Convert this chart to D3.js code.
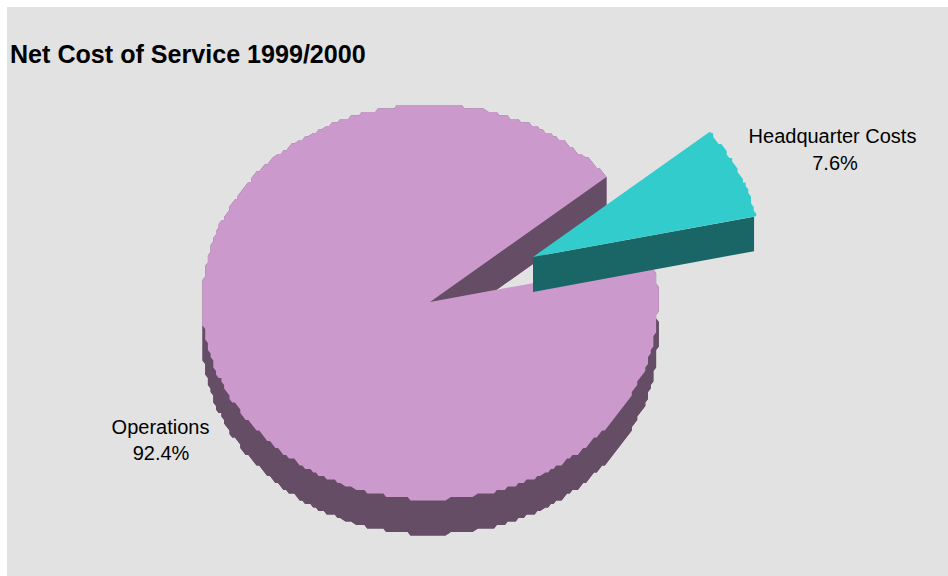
<!DOCTYPE html>
<html>
<head>
<meta charset="utf-8">
<style>
  html, body { margin: 0; padding: 0; background: #ffffff; }
  svg { display: block; }
  text { font-family: "Liberation Sans", Arial, sans-serif; fill: #000; }
</style>
<script src="https://cdn.jsdelivr.net/npm/d3@7/dist/d3.min.js"></script>
</head>
<body>
<svg id="chart" width="948" height="576"></svg>
<script>
const categories = ["Headquarter Costs", "Operations"];
const shares = [7.6, 92.4];
const shareLabels = ["7.6%", "92.4%"];
const chartTitle = "Net Cost of Service 1999/2000";

const width = 948, height = 576;
const center = { x: 430, y: 302 };
const radiusX = 228, radiusY = 197.5;
const depth = 35;
const explode = { dx: 103, dy: -45 };
const firstAngle = 50.7 * Math.PI / 180;
const gridX = 2.7, gridY = 3.5;  // outline snap, gives the coarse stepped rim
const wallInset = 2;

const fills = [
  { top: "#33cccc", side: "#1a6666" },
  { top: "#cc99cc", side: "#664d66" }
];

const svg = d3.select("#chart");

svg.append("rect")
  .attr("x", 7).attr("y", 7)
  .attr("width", width - 7).attr("height", height - 7)
  .attr("fill", "#e2e2e2");

const xScale = d3.scaleLinear().domain([-1, 1]).range([center.x - radiusX, center.x + radiusX]);
const yScale = d3.scaleLinear().domain([-1, 1]).range([center.y + radiusY, center.y - radiusY]);

const slices = d3.pie()
  .sort(null)
  .startAngle(firstAngle)
  .endAngle(firstAngle + 2 * Math.PI)(shares);

// Rim points of a slice, clockwise from its start angle
function rim(slice) {
  const step = 1.0 * Math.PI / 180;
  const n = Math.ceil((slice.endAngle - slice.startAngle) / step);
  return d3.range(n + 1).map(i => {
    const a = slice.startAngle + (slice.endAngle - slice.startAngle) * i / n;
    return [xScale(Math.sin(a)), yScale(Math.cos(a))];
  });
}

const jagged = pts => pts.map((p, i) =>
  i === 0 || i === pts.length - 1
    ? p
    : [Math.round(p[0] / gridX) * gridX, Math.round(p[1] / gridY) * gridY]);

const line = d3.line();
const down = pts => pts.map(p => [p[0], p[1] + depth]);
const hub = [xScale(0), yScale(0)];
const hubLow = [hub[0], hub[1] + depth];

// Operations is drawn first, the pulled-out slice sits over it
[1, 0].forEach(index => {
  const slice = slices[index];
  const color = fills[index];
  const outline = jagged(rim(slice));
  const g = svg.append("g");
  if (index === 0) g.attr("transform", `translate(${explode.dx},${explode.dy})`);

  const last = outline[outline.length - 1];
  const walls = index === 0
    ? [[hub, [last[0] - wallInset, last[1] + 0.6],
        [last[0] - wallInset, last[1] + depth], hubLow]]
    : [[hub, last, [last[0], last[1] + depth], hubLow],
       outline.concat(down(outline).reverse()),
       [hubLow].concat(down(outline))];

  g.selectAll("path.side").data(walls).join("path")
    .attr("class", "side")
    .attr("d", d => line(d) + "Z")
    .attr("fill", color.side);

  g.append("path")
    .attr("class", "top")
    .attr("d", line([hub].concat(outline)) + "Z")
    .attr("fill", color.top);
});

svg.append("text")
  .attr("x", 10).attr("y", 63)
  .attr("font-size", 25.1)
  .attr("font-weight", "bold")
  .text(chartTitle);

const namePos = [{ x: 832.5, y: 143 }, { x: 160.5, y: 434 }];
const sharePos = [{ x: 835, y: 170 }, { x: 161, y: 460 }];
categories.forEach((name, i) => {
  const t = svg.append("text")
    .attr("text-anchor", "middle")
    .attr("font-size", 20);
  t.append("tspan").attr("x", namePos[i].x).attr("y", namePos[i].y).text(name);
  t.append("tspan").attr("x", sharePos[i].x).attr("y", sharePos[i].y).text(shareLabels[i]);
});
</script>
</body>
</html>
